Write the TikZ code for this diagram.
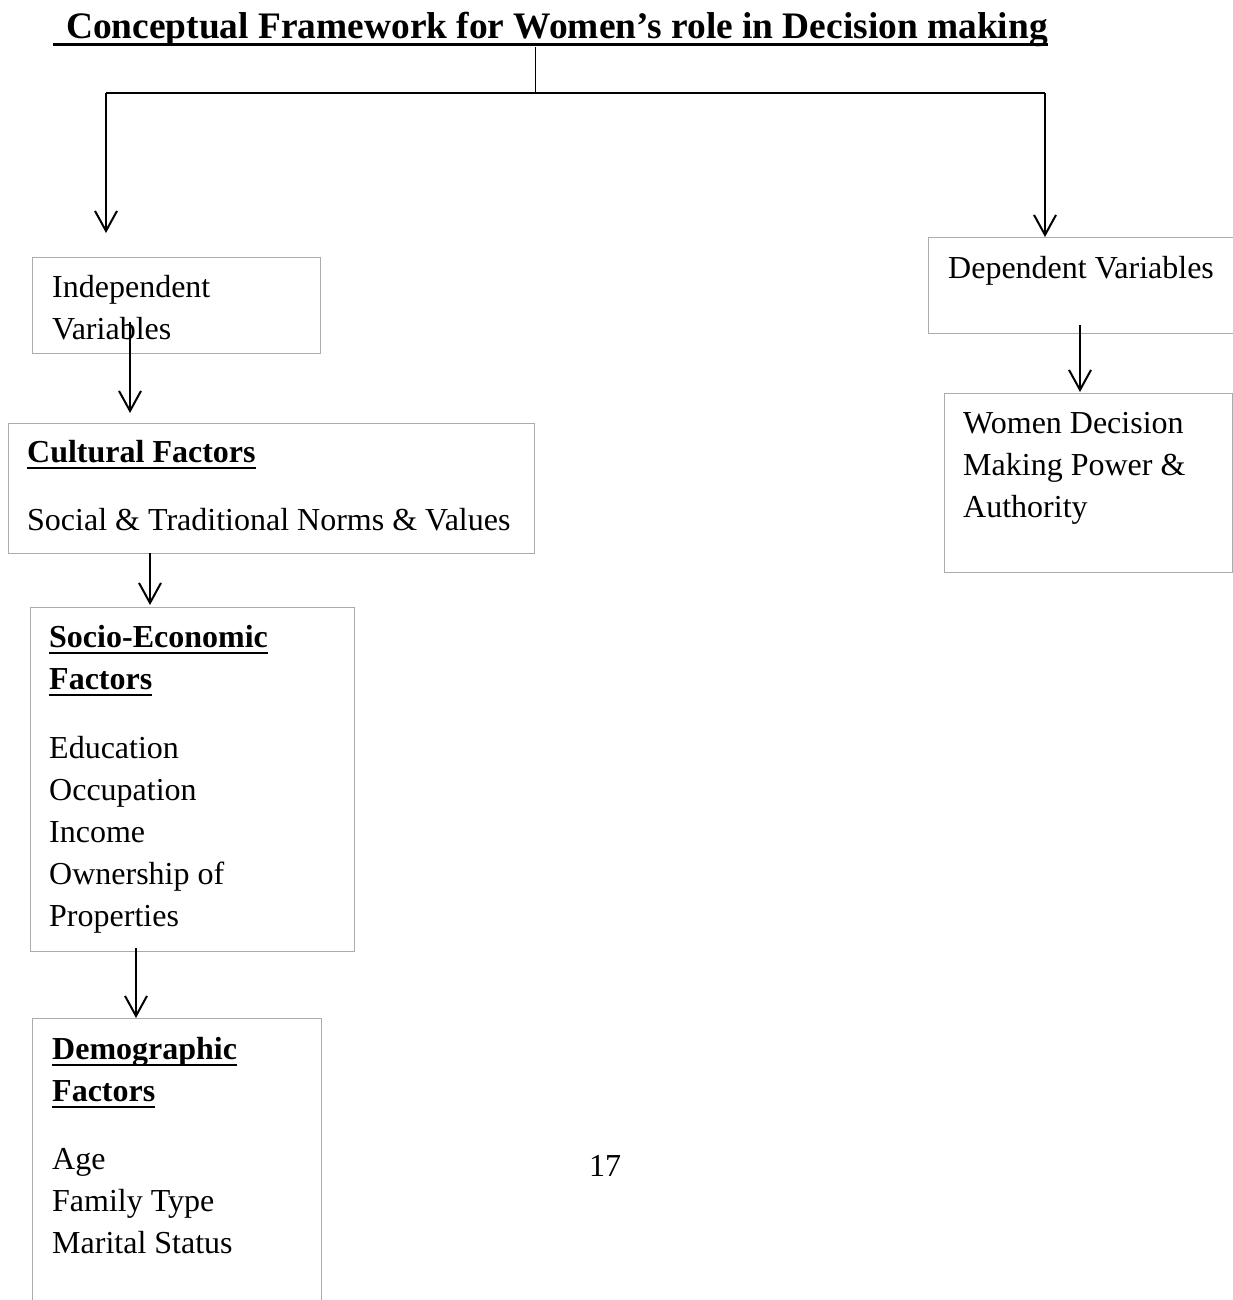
\documentclass[tikz,border=0pt]{standalone}
\usepackage{fontspec}
\setmainfont{Liberation Serif}
\usetikzlibrary{arrows.meta,calc}
\newcommand\myul[3][2]{\leavevmode\setbox0\hbox{#3}\rlap{\rule[-#2]{\wd0}{#1pt}}\box0}
\definecolor{boxgray}{HTML}{ABABAB}
\begin{document}
\begin{tikzpicture}[x=1pt,y=-1pt,
  box/.style={draw=boxgray, line width=1.2pt, rectangle, inner sep=0pt, anchor=north west},
  txt/.style={anchor=base west, inner sep=0pt, font=\fontsize{32}{42}\selectfont},
  arr/.style={-{Straight Barb[length=20pt,width=22pt,line width=2pt]}, line width=2pt},
  tree/.style={line width=2pt}]
\useasboundingbox (0,0) rectangle (1233,1300);

% title
\node[anchor=base west, inner sep=0pt, font=\fontsize{37.4}{44}\selectfont\bfseries] (title) at (53,38.5)
  {\myul[3]{7.5pt}{\hspace*{13pt}Conceptual Framework for Women’s role in Decision making}};

% boxes
\node[box, minimum width=288pt, minimum height=96pt] (indep) at (32,257) {};
\node[box, minimum width=526pt, minimum height=130pt] (cult) at (8,423) {};
\node[box, minimum width=324pt, minimum height=344pt] (socio) at (30,607) {};
\node[box, minimum width=289pt, minimum height=300pt] (demo) at (32,1018) {};
\node[box, minimum width=320pt, minimum height=96pt] (dep) at (928,237) {};
\node[box, minimum width=288pt, minimum height=179pt] (women) at (944,393) {};

% texts
\node[txt] (indepT) at (52,297) {\parbox[t]{600pt}{Independent\\Variables}};
\node[txt] (cultT) at (27,462) {\parbox[t]{600pt}{\myul{7pt}{\bfseries Cultural Factors}\\[26pt]Social \& Traditional Norms \& Values}};
\node[txt] (socioT) at (49,647) {\parbox[t]{600pt}{\myul{7pt}{\bfseries Socio-Economic}\\\myul{7pt}{\bfseries Factors}\\[27pt]Education\\Occupation\\Income\\Ownership of\\Properties}};
\node[txt] (demoT) at (52,1059) {\parbox[t]{600pt}{\myul{7pt}{\bfseries Demographic}\\\myul{7pt}{\bfseries Factors}\\[26pt]Age\\Family Type\\Marital Status}};
\node[txt] (depT) at (948,278) {Dependent Variables};
\node[txt] (womenT) at (963,433) {\parbox[t]{600pt}{Women Decision\\Making Power \&\\Authority}};
\node[txt] (page) at (589,1176) {17};

% connectors
\coordinate (split) at (535,93);
\coordinate (lt) at (106,93);
\coordinate (rt) at (1045,93);
\coordinate (lend) at (106,233);
\draw[line width=1pt] (split |- title.south) -- (split);
\draw[tree] (lt) -- (rt);
\draw[arr] (lt) -- (lend);
\draw[arr] (rt) -- (rt |- dep.north);

\coordinate (a1) at (130,322);
\draw[arr, shorten >=10pt] (a1) -- (a1 |- cult.north);
\coordinate (a2) at (150,553);
\draw[arr, shorten >=2pt] (a2) -- (a2 |- socio.north);
\coordinate (a3) at (136,948);
\draw[arr] (a3) -- (a3 |- demo.north);
\coordinate (a4) at (1080,325);
\draw[arr, shorten >=1pt] (a4) -- (a4 |- women.north);
\end{tikzpicture}
\end{document}
